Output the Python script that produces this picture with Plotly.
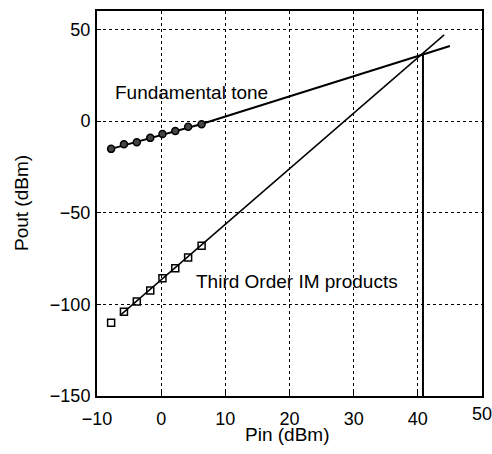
import plotly.graph_objects as go

# Measured points (Pin dBm -> Pout dBm)
pin_pts = [-7.8, -5.8, -3.8, -1.7, 0.2, 2.2, 4.2, 6.3]
fund_pts = [-15.2, -12.7, -11.6, -9.2, -7.1, -5.4, -3.1, -1.8]
im3_pts = [-110.0, -104.0, -98.5, -92.5, -85.8, -80.3, -74.4, -68.1]

# Extrapolated straight lines
fund_line_x = [-7.8, 6.3, 45.0]
fund_line_y = [-15.2, -1.6, 40.9]
im3_line_x = [-6.4, 44.1]
im3_line_y = [-106.0, 47.0]

# Intercept point marker line
ip_x = [40.8, 40.8]
ip_y = [36.2, -150.0]

x_ticks = [-10, 0, 10, 20, 30, 40, 50]
y_ticks = [-150, -100, -50, 0, 50]

FONT = "Liberation Sans, Arial, sans-serif"

fig = go.Figure()
fig.add_trace(go.Scatter(x=fund_line_x, y=fund_line_y, mode="lines",
                         line=dict(color="black", width=2), hoverinfo="skip"))
fig.add_trace(go.Scatter(x=im3_line_x, y=im3_line_y, mode="lines",
                         line=dict(color="black", width=1.5), hoverinfo="skip"))
fig.add_trace(go.Scatter(x=ip_x, y=ip_y, mode="lines",
                         line=dict(color="black", width=2), hoverinfo="skip"))
fig.add_trace(go.Scatter(x=pin_pts, y=fund_pts, mode="markers",
                         marker=dict(symbol="circle", size=7, color="#444",
                                     line=dict(color="black", width=1.5))))
fig.add_trace(go.Scatter(x=pin_pts, y=im3_pts, mode="markers",
                         marker=dict(symbol="square-open", size=7, color="black",
                                     line=dict(color="black", width=1.5))))

fig.add_annotation(x=-7.5, y=15.5, text="Fundamental tone", showarrow=False,
                   xanchor="left", yanchor="middle",
                   font=dict(family=FONT, size=19, color="black"))
fig.add_annotation(x=5.1, y=-87.6, text="Third Order IM products", showarrow=False,
                   xanchor="left", yanchor="middle",
                   font=dict(family=FONT, size=19, color="black"))
fig.add_annotation(x=0.494, y=-0.1, xref="paper", yref="paper", text="Pin (dBm)",
                   showarrow=False, xanchor="center", yanchor="middle",
                   font=dict(family=FONT, size=19, color="black"))
fig.add_annotation(x=-0.196, y=0.5, xref="paper", yref="paper", text="Pout (dBm)",
                   showarrow=False, xanchor="center", yanchor="middle", textangle=-90,
                   font=dict(family=FONT, size=19, color="black"))

# Last x tick label sits at the figure edge; draw it as an annotation so it is not dropped
fig.add_annotation(x=x_ticks[-1], y=-0.046, xref="x", yref="paper", text=str(x_ticks[-1]),
                   showarrow=False, xanchor="center", yanchor="middle",
                   font=dict(family=FONT, size=18, color="black"))

axis_common = dict(
    showgrid=True, gridcolor="black", gridwidth=1, griddash="dot",
    zeroline=False, showline=True, linecolor="black", linewidth=2, mirror=True,
    ticks="inside", ticklen=4, tickwidth=1, tickcolor="black",
    tickfont=dict(family=FONT, size=18, color="black"),
    automargin=False,
)

fig.update_layout(
    width=492, height=454,
    margin=dict(l=97, r=10, t=11, b=58, autoexpand=False),
    paper_bgcolor="white", plot_bgcolor="white",
    showlegend=False,
    xaxis=dict(range=[-10, 50], tickvals=x_ticks[:-1], ticklabelstandoff=5, **axis_common),
    yaxis=dict(range=[-150, 60], tickvals=y_ticks, ticklabelstandoff=1, **axis_common),
)

fig.write_html("out.html")
